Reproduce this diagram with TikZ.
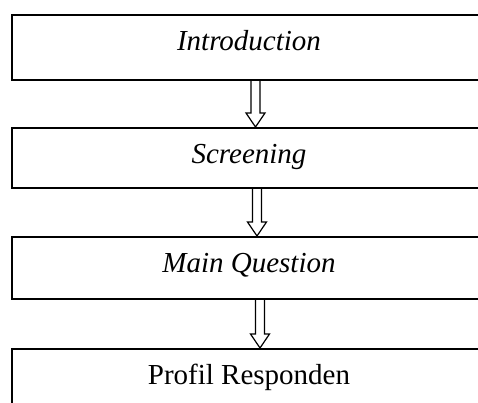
\documentclass[tikz,border=0pt]{standalone}
\usepackage{fontspec}
\setmainfont{Liberation Serif}
\usetikzlibrary{calc}

\tikzset{
    stage/.style={draw, rectangle, line width=1.6pt, anchor=north, minimum width=474pt,
        inner ysep=0pt, text height=36pt, font=\fontsize{29}{34}\selectfont},
    arrowline/.style={draw, line width=1.2pt, line join=miter}
}

% hollow arrow from the bottom of one stage to the top of the next
\newcommand{\flowarrow}[3]{%
    \draw [arrowline] let \p1 = ([xshift=#3pt]#1.south), \p2 = ([xshift=#3pt]#2.north) in
        (\x1-4.5pt,\y1) -- (\x1-4.5pt,\y2+14pt) -- (\x1-9.5pt,\y2+14pt) -- (\x2,\y2)
        -- (\x1+9.5pt,\y2+14pt) -- (\x1+4.5pt,\y2+14pt) -- (\x1+4.5pt,\y1);
}

\begin{document}
\begin{tikzpicture}[x=1pt, y=-1pt]
        \useasboundingbox (0,0) rectangle (478,403);
        \clip (0,0) rectangle (478,403);

        %% the four stages
        \node [stage, text depth=29pt] (intro) at (249,14) {\textit{Introduction}};
        \node [stage, text depth=24pt] (screen) at (249,127) {\textit{Screening}};
        \node [stage, text depth=26pt] (mainq) at (249,236) {\textit{Main Question}};
        \node [stage, text depth=26pt] (profil) at (249,348) {Profil Responden};

        %% arrows between them
        \flowarrow{intro}{screen}{6.5}
        \flowarrow{screen}{mainq}{8}
        \flowarrow{mainq}{profil}{11}

    \end{tikzpicture}
\end{document}
